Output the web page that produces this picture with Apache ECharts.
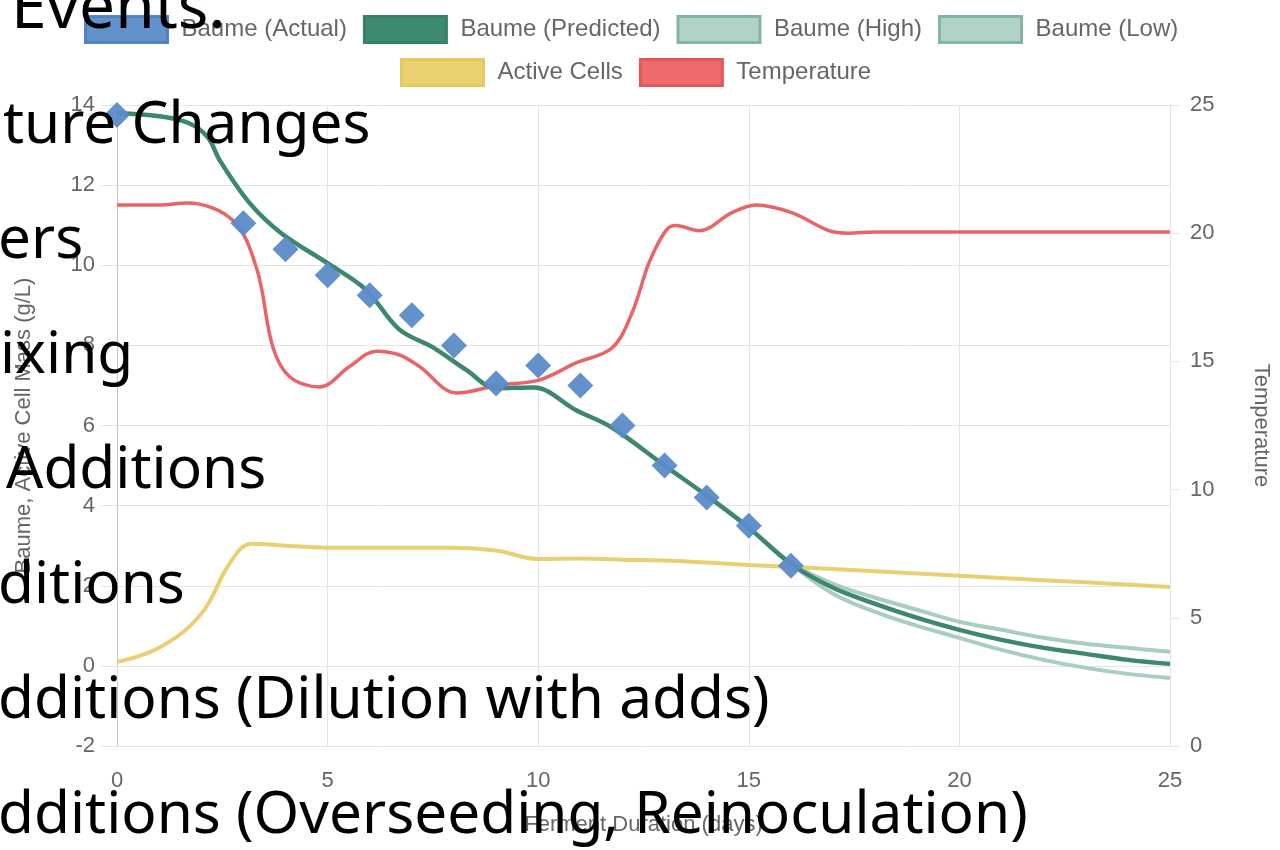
<!DOCTYPE html>
<html>
<head>
<meta charset="utf-8">
<script src="https://cdn.jsdelivr.net/npm/echarts@6/dist/echarts.min.js"></script>
<style>
  html, body { margin: 0; padding: 0; background: #fff; }
  #chart { width: 1280px; height: 850px; }
</style>
</head>
<body>
<div id="chart"></div>
<script>
// baume readings (g/L) by day
const actualDays = [0, 3, 4, 5, 6, 7, 8, 9, 10, 11, 12, 13, 14, 15, 16]
const actualBaume = [13.75, 11.05, 10.4, 9.75, 9.25, 8.75, 8.0, 7.05, 7.5, 7.0, 6.0, 5.0, 4.2, 3.5, 2.5]

const predictedDays = [0, 1, 1.7, 2.15, 2.45, 3.15, 3.9, 5, 5.9, 6.7, 7.5, 8.3, 9, 9.9, 10.9, 11.75, 13, 14, 15, 16, 17, 18, 19, 20, 21, 22, 23, 24, 25]
const predictedBaume = [13.8, 13.72, 13.55, 13.2, 12.6, 11.55, 10.8, 10.05, 9.4, 8.4, 7.95, 7.38, 6.93, 6.95, 6.38, 5.95, 5.0, 4.25, 3.45, 2.55, 1.95, 1.55, 1.2, 0.9, 0.65, 0.45, 0.3, 0.15, 0.05]

const bandDays = [16, 17, 18, 19, 20, 21, 22, 23, 24, 25]
const baumeHigh = [2.55, 2.05, 1.7, 1.4, 1.1, 0.9, 0.7, 0.55, 0.45, 0.35]
const baumeLow = [2.55, 1.8, 1.35, 1.0, 0.7, 0.4, 0.15, -0.05, -0.2, -0.3]

const cellDays = [0, 1, 2, 2.7, 3.2, 4, 5, 6, 7, 8, 9, 10, 11, 12, 13, 14, 15, 16, 18, 20, 22, 25]
const activeCells = [0.1, 0.45, 1.3, 2.6, 3.05, 3.0, 2.95, 2.95, 2.95, 2.95, 2.88, 2.67, 2.68, 2.65, 2.63, 2.58, 2.52, 2.47, 2.36, 2.25, 2.14, 1.97]

const tempDays = [0, 1, 1.66, 2.75, 3.32, 3.7, 4.1, 4.81, 5.52, 6.16, 6.71, 7.18, 8.06, 9.08, 10.02, 10.9, 11.75, 12.23, 12.63, 13.03, 13.27, 13.82, 14.6, 15.17, 16.02, 16.9, 17.37, 18, 20, 25]
const temperature = [21.1, 21.1, 21.18, 20.5, 18.6, 15.56, 14.4, 14.0, 14.8, 15.4, 15.25, 14.8, 13.77, 14.08, 14.27, 14.94, 15.52, 16.9, 18.84, 20.1, 20.3, 20.1, 20.8, 21.1, 20.8, 20.1, 20.0, 20.05, 20.05, 20.05]

const eventLines = [
  'Events.',
  'ture Changes',
  'ers',
  'ixing',
  'Additions',
  'ditions',
  'dditions (Dilution with adds)',
  'dditions (Overseeding, Reinoculation)'
]

const pairs = (xs, ys) => xs.map((x, i) => [x, ys[i]])

const chart = echarts.init(document.getElementById('chart'))

const gridColor = '#e4e4e4'
const labelColor = '#666'
const font = 'Liberation Sans'

const eventX = [11, 3, -2, 0, 6, -2, -2, -2]
const eventSize = [64, 58.5, 58.5, 58.5, 58.5, 58.5, 58.5, 58.5]

const legendBase = {
  itemWidth: 82,
  itemHeight: 26,
  itemGap: 16,
  textStyle: { fontSize: 24, color: labelColor, padding: [0, 0, 0, 9] }
}

chart.setOption({
  animation: false,
  textStyle: { fontFamily: font },
  legend: [Object.assign({}, legendBase, {
    left: 79,
    top: 10,
    data: [
      { name: 'Baume (Actual)', icon: 'rect', itemStyle: { color: '#5b8bc9', borderColor: '#4f7fc0', borderWidth: 3 } },
      { name: 'Baume (Predicted)', icon: 'rect', itemStyle: { color: '#3f8a73', borderColor: '#37806a', borderWidth: 3 } },
      { name: 'Baume (High)', icon: 'rect', itemStyle: { color: '#b1d2c7', borderColor: '#83b5a5', borderWidth: 3 } },
      { name: 'Baume (Low)', icon: 'rect', itemStyle: { color: '#b1d2c7', borderColor: '#83b5a5', borderWidth: 3 } }
    ]
  }), Object.assign({}, legendBase, {
    left: 395,
    top: 53,
    data: [
      { name: 'Active Cells', icon: 'rect', itemStyle: { color: '#ebd270', borderColor: '#e5c95e', borderWidth: 3 } },
      { name: 'Temperature', icon: 'rect', itemStyle: { color: '#ef6a6a', borderColor: '#e25757', borderWidth: 3 } }
    ]
  })],
  grid: { left: 117, right: 108, top: 105, bottom: 104 },
  xAxis: {
    type: 'value',
    min: 0,
    max: 25,
    interval: 5,
    name: 'Ferment Duration (days)',
    nameLocation: 'middle',
    nameGap: 68,
    nameTextStyle: { fontSize: 22, color: labelColor },
    axisLine: { show: true, lineStyle: { color: gridColor } },
    axisTick: { show: true, length: 16, lineStyle: { color: gridColor } },
    axisLabel: { fontSize: 22, color: labelColor, margin: 24 },
    splitLine: { show: true, lineStyle: { color: gridColor } }
  },
  yAxis: [{
    type: 'value',
    min: -2,
    max: 14,
    interval: 2,
    name: 'Baume, Active Cell Mass (g/L)',
    nameLocation: 'middle',
    nameGap: 82,
    nameTextStyle: { fontSize: 22, color: labelColor },
    axisLine: { show: true, lineStyle: { color: '#c4c4c4' } },
    axisTick: { show: true, length: 16, lineStyle: { color: gridColor } },
    axisLabel: { fontSize: 22, color: labelColor, margin: 22 },
    splitLine: {
      show: true,
      lineStyle: { color: [gridColor, '#c4c4c4', gridColor, gridColor, gridColor, gridColor, gridColor, gridColor, gridColor] }
    }
  }, {
    type: 'value',
    min: 0,
    max: 25,
    interval: 5,
    position: 'right',
    name: 'Temperature',
    nameLocation: 'middle',
    nameRotate: -90,
    nameGap: 80,
    nameTextStyle: { fontSize: 22, color: labelColor },
    axisLine: { show: true, lineStyle: { color: gridColor } },
    axisTick: { show: true, length: 10, lineStyle: { color: gridColor } },
    axisLabel: { fontSize: 22, color: labelColor, margin: 20 },
    splitLine: { show: false }
  }],
  series: [{
    name: 'Temperature',
    type: 'line',
    yAxisIndex: 1,
    smooth: 0.35,
    showSymbol: false,
    itemStyle: { color: '#ef6a6a' },
    lineStyle: { color: '#e96466', width: 3.5 },
    data: pairs(tempDays, temperature),
    z: 2
  }, {
    name: 'Active Cells',
    type: 'line',
    smooth: 0.4,
    showSymbol: false,
    itemStyle: { color: '#ebd270' },
    lineStyle: { color: '#e9cf72', width: 4 },
    data: pairs(cellDays, activeCells),
    z: 3
  }, {
    name: 'Baume (Low)',
    type: 'line',
    smooth: 0.4,
    showSymbol: false,
    itemStyle: { color: '#b1d2c7' },
    lineStyle: { color: '#a9cdc1', width: 4 },
    data: pairs(bandDays, baumeLow),
    z: 4
  }, {
    name: 'Baume (High)',
    type: 'line',
    smooth: 0.4,
    showSymbol: false,
    itemStyle: { color: '#b1d2c7' },
    lineStyle: { color: '#a9cdc1', width: 4 },
    data: pairs(bandDays, baumeHigh),
    z: 4
  }, {
    name: 'Baume (Predicted)',
    type: 'line',
    smooth: 0.35,
    showSymbol: false,
    itemStyle: { color: '#3f8a73' },
    lineStyle: { color: '#3d8770', width: 4.5 },
    data: pairs(predictedDays, predictedBaume),
    z: 5
  }, {
    name: 'Baume (Actual)',
    type: 'scatter',
    symbol: 'diamond',
    symbolSize: 26,
    itemStyle: { color: '#5b8bc9', opacity: 0.95 },
    data: pairs(actualDays, actualBaume),
    z: 6
  }],
  graphic: eventLines.map((t, i) => ({
    type: 'text',
    z: 100,
    style: {
      text: t,
      x: eventX[i],
      y: 28 + i * 115 + Math.round(eventSize[i] * 0.215),
      fontSize: eventSize[i],
      fontFamily: 'Noto Sans',
      fill: '#000',
      verticalAlign: 'bottom'
    }
  }))
})
</script>
</body>
</html>
